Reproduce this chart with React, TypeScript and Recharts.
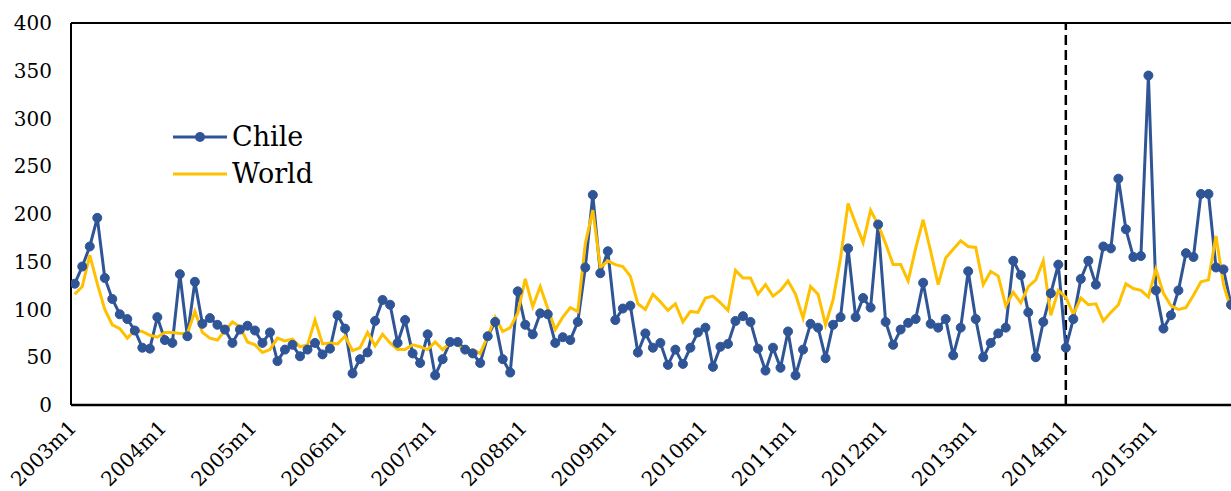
import React from "react";
import { LineChart, Line, XAxis, YAxis, ReferenceLine } from "recharts";

const yearLabels = ["2003m1","2004m1","2005m1","2006m1","2007m1","2008m1","2009m1","2010m1","2011m1","2012m1","2013m1","2014m1","2015m1"];

const chile = [
  127, 145, 166, 196, 133, 111, 95, 90, 78, 60, 59, 92,
  68, 65, 137, 72, 129, 85, 91, 84, 79, 65, 79, 83,
  78, 65, 76, 46, 58, 63, 51, 58, 65, 53, 59, 94,
  80, 33, 48, 55, 88, 110, 105, 65, 89, 54, 44, 74,
  31, 48, 66, 66, 58, 54, 44, 72, 87, 48, 34, 119,
  84, 74, 96, 95, 65, 71, 68, 87, 144, 220, 138, 161,
  89, 101, 104, 55, 75, 60, 65, 42, 58, 43, 60, 76,
  81, 40, 61, 64, 88, 93, 87, 59, 36, 60, 39, 77,
  31, 58, 85, 81, 49, 84, 92, 164, 92, 112, 102, 189,
  87, 63, 79, 86, 90, 128, 85, 81, 90, 52, 81, 140,
  90, 50, 65, 75, 81, 151, 136, 97, 50, 87, 117, 147,
  60, 90, 132, 151, 126, 166, 164, 237, 184, 155, 156, 345,
  120, 80, 94, 120, 159, 155, 221, 221, 144, 142, 105,
];

const world = [
  116, 124, 157, 127, 100, 84, 80, 70, 78, 77, 73, 71,
  76, 76, 75, 75, 98, 76, 70, 68, 78, 87, 82, 66,
  63, 55, 58, 70, 67, 69, 61, 63, 89, 64, 65, 64,
  72, 57, 60, 76, 62, 74, 65, 58, 58, 63, 61, 58,
  66, 58, 65, 64, 55, 58, 54, 72, 92, 77, 81, 96,
  132, 103, 124, 101, 79, 92, 102, 98, 169, 204, 144, 151,
  147, 145, 135, 106, 100, 116, 108, 99, 106, 87, 98, 97,
  112, 114, 107, 99, 141, 133, 133, 116, 126, 114, 120, 130,
  116, 91, 124, 116, 84, 110, 154, 211, 190, 170, 204, 189,
  169, 147, 147, 130, 164, 194, 161, 126, 154, 163, 172, 166,
  165, 126, 140, 135, 104, 118, 107, 124, 131, 151, 94, 120,
  113, 95, 112, 105, 106, 88, 97, 105, 127, 122, 120, 113,
  142, 117, 104, 100, 102, 115, 129, 131, 177, 126, 100,
];

const yTicks = [0, 50, 100, 150, 200, 250, 300, 350, 400];
const breakMonth = 132;

const data = chile.map((c, i) => ({ i, chile: c, world: world[i] }));
const xTicks = yearLabels.map((_, k) => k * 12);

const FONT = "DejaVu Serif";
const BLUE = "#2F5597";
const GOLD = "#FFC000";

const XTick = (props: any) => {
  const { x, y, payload } = props;
  const label = yearLabels[Math.round(payload.value / 12)];
  return (
    <text
      transform={`translate(${x + 3},${y + 24}) rotate(-45)`}
      textAnchor="end"
      fontSize={20}
      fontFamily={FONT}
      fill="#000"
    >
      {label}
    </text>
  );
};

const YTick = (props: any) => {
  const { y, payload } = props;
  return (
    <text x={52} y={y} dy={7} textAnchor="end" fontSize={20} fontFamily={FONT} fill="#000">
      {payload.value}
    </text>
  );
};

export default function App() {
  return (
    <div style={{ position: "absolute", left: 0, top: 0, width: 1231, height: 491, overflow: "hidden", background: "#fff" }}>
      <LineChart
        width={1240}
        height={491}
        data={data}
        margin={{ top: 23, right: 9, bottom: 26, left: 0 }}
      >
        <XAxis
          type="number"
          dataKey="i"
          domain={[-0.5, 154]}
          ticks={xTicks}
          tick={<XTick />}
          tickLine={false}
          tickSize={0}
          tickMargin={0}
          height={60}
          axisLine={{ stroke: "#000", strokeWidth: 2.5 }}
          interval={0}
          allowDataOverflow
        />
        <YAxis
          type="number"
          domain={[0, 400]}
          ticks={yTicks}
          tick={<YTick />}
          tickLine={false}
          width={71}
          axisLine={{ stroke: "#000", strokeWidth: 2 }}
          interval={0}
        />
        <ReferenceLine y={400} stroke="#000" strokeWidth={2} />
        <ReferenceLine x={breakMonth} stroke="#000" strokeWidth={2.5} strokeDasharray="10 5" />
        <Line
          dataKey="chile"
          stroke={BLUE}
          strokeWidth={3}
          dot={{ r: 4.5, fill: BLUE, stroke: BLUE, strokeWidth: 1 }}
          isAnimationActive={false}
        />
        <Line
          dataKey="world"
          stroke={GOLD}
          strokeWidth={3}
          dot={false}
          isAnimationActive={false}
        />
      </LineChart>
      <svg width={200} height={70} style={{ position: "absolute", left: 170, top: 118 }}>
        <line x1={3} y1={19} x2={57} y2={19} stroke={BLUE} strokeWidth={3} />
        <circle cx={30} cy={19} r={5} fill={BLUE} />
        <text x={62} y={28} fontSize={27} fontFamily={FONT} fill="#000">Chile</text>
        <line x1={3} y1={56} x2={57} y2={56} stroke={GOLD} strokeWidth={3} />
        <text x={62} y={65} fontSize={27} fontFamily={FONT} fill="#000">World</text>
      </svg>
    </div>
  );
}
